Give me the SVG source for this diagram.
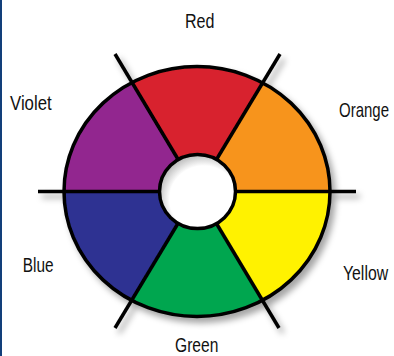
<svg xmlns="http://www.w3.org/2000/svg" width="394" height="356" viewBox="0 0 394 356">
  <style>
    .lbl { font-family: "Liberation Sans", Arial, sans-serif; font-size: 20px; fill: #111; }
    .edge { stroke: #000; stroke-width: 3.5; fill: none; stroke-linecap: butt; }
  </style>
  <defs>
    <filter id="shadow" x="-20%" y="-20%" width="140%" height="140%">
      <feDropShadow dx="4" dy="5" stdDeviation="3" flood-color="#000" flood-opacity="0.35"/>
    </filter>
    <radialGradient id="hole" cx="0.58" cy="0.6" r="0.62">
      <stop offset="0" stop-color="#fff"/>
      <stop offset="0.72" stop-color="#fff"/>
      <stop offset="1" stop-color="#b8b8b8"/>
    </radialGradient>
  </defs>
  <rect width="394" height="356" fill="#fff"/>
  <rect x="0" y="0" width="2" height="356" fill="#123f7a"/>

  <g id="wheel" filter="url(#shadow)">
    <g id="red"><path d="M197,191.5 L131.8,82.6 A133,125 0 0 1 262.2,82.6 Z" fill="#D8232F"/></g>
    <g id="orange"><path d="M197,191.5 L262.2,82.6 A133,125 0 0 1 330,191.5 Z" fill="#F7941D"/></g>
    <g id="yellow"><path d="M197,191.5 L330,191.5 A133,125 0 0 1 262.2,300.4 Z" fill="#FFF200"/></g>
    <g id="green"><path d="M197,191.5 L262.2,300.4 A133,125 0 0 1 131.8,300.4 Z" fill="#00A650"/></g>
    <g id="blue"><path d="M197,191.5 L131.8,300.4 A133,125 0 0 1 64,191.5 Z" fill="#2E3192"/></g>
    <g id="violet"><path d="M197,191.5 L64,191.5 A133,125 0 0 1 131.8,82.6 Z" fill="#92278F"/></g>
    <g id="connectors">
      <line class="edge" x1="115" y1="54" x2="279" y2="328"/>
      <line class="edge" x1="280" y1="54" x2="115" y2="328"/>
      <line class="edge" x1="38" y1="191.5" x2="356" y2="191.5"/>
    </g>
    <ellipse class="edge" cx="197" cy="191.5" rx="133" ry="125"/>
    <ellipse id="hub" cx="197.5" cy="191.5" rx="38" ry="37" fill="url(#hole)" stroke="#000" stroke-width="3.5"/>
  </g>

  <g id="labels">
    <text class="lbl" transform="translate(185,28.3) scale(0.804,1)">Red</text>
    <text class="lbl" transform="translate(10,110) scale(0.84,1)">Violet</text>
    <text class="lbl" transform="translate(339,116.5) scale(0.75,1)">Orange</text>
    <text class="lbl" transform="translate(22.7,271.7) scale(0.77,1)">Blue</text>
    <text class="lbl" transform="translate(343,280) scale(0.79,1)">Yellow</text>
    <text class="lbl" transform="translate(175,352) scale(0.78,1)">Green</text>
  </g>
</svg>
